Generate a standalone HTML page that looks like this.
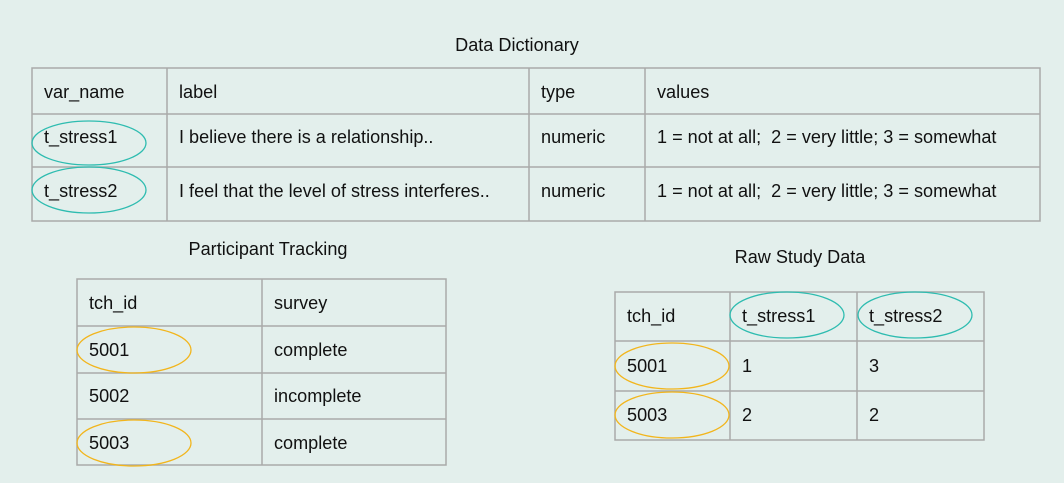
<!DOCTYPE html>
<html><head><meta charset="utf-8"><style>
body{margin:0;background:#e3efec;}
svg{display:block;font-family:"Liberation Sans",sans-serif;}
text{font-size:18.1px;fill:#111;}
.t{dominant-baseline:central;}
line,rect{stroke:#a9aaa9;stroke-width:1.5;fill:none;}
.teal{fill:none;stroke:#2ebcb0;stroke-width:1.3;}
.org{fill:none;stroke:#f2b51c;stroke-width:1.3;}
</style></head><body>
<svg width="1064" height="483">
<rect x="0" y="0" width="1064" height="483" style="fill:#e3efec;stroke:none"/>
<g>
<text x="517" y="45" text-anchor="middle" class="t">Data Dictionary</text>
<rect x="32" y="68" width="1008" height="153"/>
<line x1="32" y1="114" x2="1040" y2="114"/><line x1="32" y1="167" x2="1040" y2="167"/>
<line x1="167" y1="68" x2="167" y2="221"/><line x1="529" y1="68" x2="529" y2="221"/><line x1="645" y1="68" x2="645" y2="221"/>
<text x="44" y="92" class="t">var_name</text><text x="179" y="92" class="t">label</text><text x="541" y="92" class="t">type</text><text x="657" y="92" class="t">values</text>
<text x="44" y="137" class="t">t_stress1</text><text x="179" y="137" class="t">I believe there is a relationship..</text><text x="541" y="137" class="t">numeric</text><text x="657" y="137" class="t">1 = not at all;&#160; 2 = very little; 3 = somewhat</text>
<text x="44" y="191" class="t">t_stress2</text><text x="179" y="191" class="t">I feel that the level of stress interferes..</text><text x="541" y="191" class="t">numeric</text><text x="657" y="191" class="t">1 = not at all;&#160; 2 = very little; 3 = somewhat</text>
<ellipse class="teal" cx="89" cy="143" rx="57" ry="22"/><ellipse class="teal" cx="89" cy="190" rx="57" ry="23"/>
</g>
<g>
<text x="268" y="249" text-anchor="middle" class="t">Participant Tracking</text>
<rect x="77" y="279" width="369" height="186"/>
<line x1="77" y1="326" x2="446" y2="326"/><line x1="77" y1="373" x2="446" y2="373"/><line x1="77" y1="419" x2="446" y2="419"/>
<line x1="262" y1="279" x2="262" y2="465"/>
<text x="89" y="303" class="t">tch_id</text><text x="274" y="303" class="t">survey</text>
<text x="89" y="350" class="t">5001</text><text x="274" y="350" class="t">complete</text>
<text x="89" y="396" class="t">5002</text><text x="274" y="396" class="t">incomplete</text>
<text x="89" y="443" class="t">5003</text><text x="274" y="443" class="t">complete</text>
<ellipse class="org" cx="134" cy="350" rx="57" ry="23"/><ellipse class="org" cx="134" cy="443" rx="57" ry="23"/>
</g>
<g>
<text x="800" y="257" text-anchor="middle" class="t">Raw Study Data</text>
<rect x="615" y="292" width="369" height="148"/>
<line x1="615" y1="341" x2="984" y2="341"/><line x1="615" y1="391" x2="984" y2="391"/>
<line x1="730" y1="292" x2="730" y2="440"/><line x1="857" y1="292" x2="857" y2="440"/>
<text x="627" y="316" class="t">tch_id</text><text x="742" y="316" class="t">t_stress1</text><text x="869" y="316" class="t">t_stress2</text>
<text x="627" y="366" class="t">5001</text><text x="742" y="366" class="t">1</text><text x="869" y="366" class="t">3</text>
<text x="627" y="415" class="t">5003</text><text x="742" y="415" class="t">2</text><text x="869" y="415" class="t">2</text>
<ellipse class="teal" cx="787" cy="315" rx="57" ry="23"/><ellipse class="teal" cx="915" cy="315" rx="57" ry="23"/>
<ellipse class="org" cx="672" cy="366" rx="57" ry="23"/><ellipse class="org" cx="672" cy="415" rx="57" ry="23"/>
</g>
</svg>
</body></html>
